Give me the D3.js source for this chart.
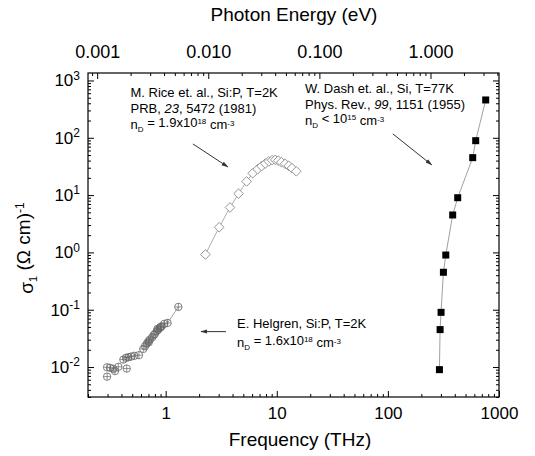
<!DOCTYPE html>
<html>
<head>
<meta charset="utf-8">
<script src="https://cdn.jsdelivr.net/npm/d3@7"></script>
<style>
  body { margin: 0; background: #fff; }
  text { font-family: "Liberation Sans", Arial, sans-serif; fill: #000; }
</style>
</head>
<body>
<svg id="chart"></svg>
<script>
// Data
const riceFreq  = [2.28, 3.03, 3.79, 4.53, 5.35, 6.07, 6.72, 7.30, 7.88, 8.47, 9.08, 9.68, 10.3, 11.0, 11.9, 12.8, 13.7, 15.0];
const riceSigma = [0.92, 2.75, 6.08, 10.6, 17.3, 24.0, 28.2, 32.0, 35.5, 38.8, 40.7, 41.2, 39.9, 37.6, 35.1, 32.4, 29.5, 26.0];

const dashFreq  = [291, 295, 301, 316, 332, 383, 425, 580, 617, 759];
const dashSigma = [0.009, 0.045, 0.090, 0.45, 0.90, 4.5, 9.0, 45, 89, 457];

const helgrenFreq  = [0.297, 0.297, 0.316, 0.338, 0.350, 0.375, 0.416, 0.440, 0.446, 0.461, 0.488, 0.522, 0.575,
                      0.629, 0.652, 0.675, 0.698, 0.705, 0.722, 0.757, 0.780, 0.801, 0.830, 0.845, 0.858, 0.889,
                      0.900, 0.921, 0.971, 1.04, 1.30];
const helgrenSigma = [0.0099, 0.0068, 0.0097, 0.0093, 0.0085, 0.0101, 0.0135, 0.0145, 0.0094, 0.0148, 0.0152, 0.0157, 0.0161,
                      0.0207, 0.0230, 0.0254, 0.0281, 0.0270, 0.0301, 0.0330, 0.0360, 0.0379, 0.0420, 0.0465, 0.0450, 0.0482,
                      0.0500, 0.0514, 0.0566, 0.0589, 0.112];

const xMajor = [1, 10, 100, 1000];
const yMajor = [0.01, 0.1, 1, 10, 100, 1000];
const eMajor = [0.001, 0.01, 0.1, 1];

const THz_to_eV = 0.0041357;

// Size
const width = 535;
const height = 456;
const plot = { left: 88, right: 499, top: 73, bottom: 397 };

const svg = d3.select("#chart")
    .attr("width", width)
    .attr("height", height);

const x = d3.scaleLog().domain([0.2, 1000]).range([plot.left, plot.right]);
const xE = d3.scaleLog().domain([0.2 * THz_to_eV, 1000 * THz_to_eV]).range([plot.left, plot.right]);
const y = d3.scaleLog().domain([0.003, 1350]).range([plot.bottom, plot.top]);

const isPow10 = v => Math.abs(Math.log10(v) - Math.round(Math.log10(v))) < 1e-6;
const xMinor = x.ticks().filter(v => !isPow10(v));
const eMinor = xE.ticks().filter(v => !isPow10(v));
const yMinor = y.ticks().filter(v => !isPow10(v));

function styleAxis(g) {
    g.select(".domain").remove();
    g.selectAll(".tick line").attr("stroke", "#000").attr("stroke-width", 1);
}

// Bottom axis
svg.append("g")
    .attr("transform", `translate(0,${plot.bottom})`)
    .call(d3.axisBottom(x).tickValues(xMinor).tickSize(-3).tickFormat(""))
    .call(styleAxis);
svg.append("g")
    .attr("transform", `translate(0,${plot.bottom})`)
    .call(d3.axisBottom(x).tickValues(xMajor).tickSizeInner(-6).tickSizeOuter(0).tickPadding(10)
        .tickFormat(d3.format("d")))
    .call(styleAxis)
    .selectAll("text").style("font-size", "17px");

// Top axis (photon energy)
svg.append("g")
    .attr("transform", `translate(0,${plot.top})`)
    .call(d3.axisTop(xE).tickValues(eMinor).tickSize(-3).tickFormat(""))
    .call(styleAxis);
svg.append("g")
    .attr("transform", `translate(0,${plot.top})`)
    .call(d3.axisTop(xE).tickValues(eMajor).tickSizeInner(-6).tickSizeOuter(0).tickPadding(15)
        .tickFormat(d3.format(".3f")))
    .call(styleAxis)
    .selectAll("text").style("font-size", "18px");

// Left axis
svg.append("g")
    .attr("transform", `translate(${plot.left},0)`)
    .call(d3.axisLeft(y).tickValues(yMinor).tickSize(-3).tickFormat(""))
    .call(styleAxis);
const yAxis = svg.append("g")
    .attr("transform", `translate(${plot.left},0)`)
    .call(d3.axisLeft(y).tickValues(yMajor).tickSizeInner(-6).tickSizeOuter(0).tickPadding(8)
        .tickFormat(""))
    .call(styleAxis);
yAxis.selectAll(".tick text").each(function(d) {
    const t = d3.select(this).style("font-size", "17px");
    t.append("tspan").text("10");
    t.append("tspan").attr("dy", "-0.55em").style("font-size", "12px").text(Math.round(Math.log10(d)));
});

// Right axis
svg.append("g")
    .attr("transform", `translate(${plot.right},0)`)
    .call(d3.axisRight(y).tickValues(yMinor).tickSize(-3).tickFormat(""))
    .call(styleAxis);
svg.append("g")
    .attr("transform", `translate(${plot.right},0)`)
    .call(d3.axisRight(y).tickValues(yMajor).tickSizeInner(-6).tickSizeOuter(0).tickFormat(""))
    .call(styleAxis);

// Frame
svg.append("rect")
    .attr("x", plot.left).attr("y", plot.top)
    .attr("width", plot.right - plot.left).attr("height", plot.bottom - plot.top)
    .attr("fill", "none").attr("stroke", "#000").attr("stroke-width", 1.2);

// Axis titles
svg.append("text")
    .attr("x", 294).attr("y", 21)
    .attr("text-anchor", "middle").style("font-size", "19px")
    .text("Photon Energy (eV)");
svg.append("text")
    .attr("x", 300).attr("y", 446)
    .attr("text-anchor", "middle").style("font-size", "19px")
    .text("Frequency (THz)");
const yTitle = svg.append("text")
    .attr("transform", "translate(33,248) rotate(-90)")
    .attr("text-anchor", "middle").style("font-size", "19px");
yTitle.append("tspan").text("σ");
yTitle.append("tspan").attr("dy", "0.35em").style("font-size", "11px").text("1");
yTitle.append("tspan").attr("dy", "-0.35em").text(" (Ω cm)");
yTitle.append("tspan").attr("dy", "-0.5em").style("font-size", "12px").text("-1");

// Series
const line = d3.line().x(d => x(d.f)).y(d => y(d.s));

const rice = riceFreq.map((f, i) => ({ f, s: riceSigma[i] }));
const dash = dashFreq.map((f, i) => ({ f, s: dashSigma[i] }));
const helgren = helgrenFreq.map((f, i) => ({ f, s: helgrenSigma[i] }));

// Helgren (circle with cross)
svg.append("path")
    .datum(helgren.filter(d => d.f > 0.95))
    .attr("d", line).attr("fill", "none").attr("stroke", "#888").attr("stroke-width", 0.8);
const hg = svg.selectAll(".helgren")
    .data(helgren)
    .enter()
    .append("g")
    .attr("transform", d => `translate(${x(d.f)},${y(d.s)})`);
hg.append("circle").attr("r", 3.7).attr("fill", "none").attr("stroke", "#666").attr("stroke-width", 0.8);
hg.append("path").attr("d", "M-3.7,0H3.7M0,-3.7V3.7").attr("stroke", "#666").attr("stroke-width", 0.7);

// Rice (open diamonds)
svg.append("path")
    .datum(rice)
    .attr("d", line).attr("fill", "none").attr("stroke", "#999").attr("stroke-width", 0.8);
svg.selectAll(".rice")
    .data(rice)
    .enter()
    .append("path")
    .attr("transform", d => `translate(${x(d.f)},${y(d.s)})`)
    .attr("d", "M0,-4.8L4.8,0L0,4.8L-4.8,0Z")
    .attr("fill", "#fff").attr("stroke", "#888").attr("stroke-width", 0.9);

// Dash (filled squares)
svg.append("path")
    .datum(dash)
    .attr("d", line).attr("fill", "none").attr("stroke", "#888").attr("stroke-width", 0.8);
svg.selectAll(".dash")
    .data(dash)
    .enter()
    .append("rect")
    .attr("x", d => x(d.f) - 3.5).attr("y", d => y(d.s) - 3.5)
    .attr("width", 7).attr("height", 7)
    .attr("fill", "#000");

// Arrows
svg.append("defs").append("marker")
    .attr("id", "head")
    .attr("viewBox", "0 0 10 10")
    .attr("refX", 9).attr("refY", 5)
    .attr("markerWidth", 7).attr("markerHeight", 7)
    .attr("orient", "auto")
    .append("path").attr("d", "M0,2L10,5L0,8Z").attr("fill", "#333");

const arrows = [
    [[1.76, 78], [3.63, 31]],
    [[110.7, 117], [248, 33.7]],
    [[3.49, 0.0415], [2.08, 0.0415]]
];
arrows.forEach(([a, b]) => {
    svg.append("line")
        .attr("x1", x(a[0])).attr("y1", y(a[1]))
        .attr("x2", x(b[0])).attr("y2", y(b[1]))
        .attr("stroke", "#333").attr("stroke-width", 1)
        .attr("marker-end", "url(#head)");
});

// Annotations
function note(px, py, parts) {
    const t = svg.append("text").attr("x", px).attr("y", py).style("font-size", "13px");
    parts.forEach(p => {
        const s = t.append("tspan").text(p.t);
        if (p.i) s.style("font-style", "italic");
        if (p.sup) s.attr("dy", "-0.4em").style("font-size", "8px");
        if (p.sub) s.attr("dy", "0.35em").style("font-size", "8px");
        if (p.back) s.attr("dy", p.back);
    });
}

note(130.5, 97, [{ t: "M. Rice et. al., Si:P, T=2K" }]);
note(130.5, 113, [{ t: "PRB, " }, { t: "23", i: true }, { t: ", 5472 (1981)" }]);
note(130.5, 129, [{ t: "n" }, { t: "D", sub: true }, { t: " = 1.9x10", back: "-0.35em" }, { t: "18", sup: true },
                  { t: " cm", back: "0.4em" }, { t: "-3", sup: true }]);

note(305, 93, [{ t: "W. Dash et. al., Si, T=77K" }]);
note(305, 108.5, [{ t: "Phys. Rev., " }, { t: "99", i: true }, { t: ", 1151 (1955)" }]);
note(305, 125, [{ t: "n" }, { t: "D", sub: true }, { t: " < 10", back: "-0.35em" }, { t: "15", sup: true },
                { t: " cm", back: "0.4em" }, { t: "-3", sup: true }]);

note(237, 328, [{ t: "E. Helgren, Si:P, T=2K" }]);
note(237, 347, [{ t: "n" }, { t: "D", sub: true }, { t: " = 1.6x10", back: "-0.35em" }, { t: "18", sup: true },
                { t: " cm", back: "0.4em" }, { t: "-3", sup: true }]);
</script>
</body>
</html>
